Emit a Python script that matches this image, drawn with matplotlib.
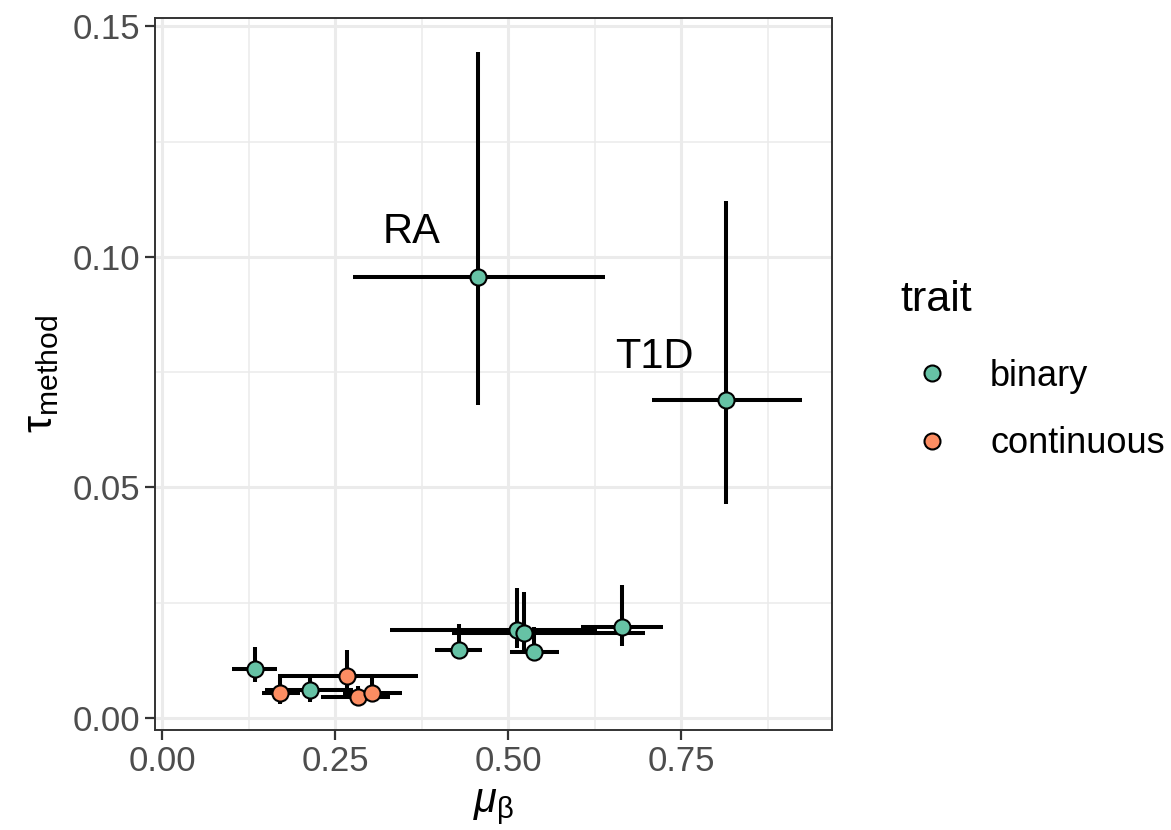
import matplotlib.pyplot as plt
from matplotlib.lines import Line2D

plt.rcParams['font.family'] = ['Liberation Sans', 'DejaVu Sans']
plt.rcParams['mathtext.fontset'] = 'custom'
plt.rcParams['mathtext.rm'] = 'Liberation Sans'
plt.rcParams['mathtext.it'] = 'Liberation Sans:italic'

# binary traits
bin_names = ['RA', 'T1D', '', '', '', '', '', '', '']
bin_x = [0.457, 0.815, 0.134, 0.214, 0.429, 0.513, 0.523, 0.537, 0.665]
bin_y = [0.0956, 0.0690, 0.0106, 0.0061, 0.0147, 0.0191, 0.0184, 0.0144, 0.0198]
bin_xlo = [0.276, 0.708, 0.101, 0.149, 0.395, 0.329, 0.419, 0.503, 0.606]
bin_xhi = [0.640, 0.925, 0.166, 0.276, 0.463, 0.628, 0.698, 0.573, 0.724]
bin_ylo = [0.0679, 0.0464, 0.0078, 0.0035, 0.0135, 0.0151, 0.0144, 0.0125, 0.0156]
bin_yhi = [0.1444, 0.1121, 0.0155, 0.0095, 0.0203, 0.0281, 0.0274, 0.0198, 0.0288]

# continuous traits
con_x = [0.171, 0.267, 0.283, 0.303]
con_y = [0.0054, 0.0090, 0.0045, 0.0055]
con_xlo = [0.144, 0.168, 0.230, 0.262]
con_xhi = [0.200, 0.370, 0.330, 0.346]
con_ylo = [0.0030, 0.0060, 0.0025, 0.0035]
con_yhi = [0.0092, 0.0147, 0.0070, 0.0092]

green = '#66C2A5'
orange = '#FC8D62'

fig = plt.figure(figsize=(11.71, 8.30), dpi=100)
ax = fig.add_axes([0.1324, 0.1205, 0.5781, 0.8578])


def errs(v, lo, hi):
    return [[a - b for a, b in zip(v, lo)], [b - a for a, b in zip(v, hi)]]


for xs, ys, xlo, xhi, ylo, yhi in [
        (bin_x, bin_y, bin_xlo, bin_xhi, bin_ylo, bin_yhi),
        (con_x, con_y, con_xlo, con_xhi, con_ylo, con_yhi)]:
    ax.errorbar(xs, ys, xerr=errs(xs, xlo, xhi), fmt='none', ecolor='black',
                elinewidth=2.9, capsize=0, zorder=2)
    ax.errorbar(xs, ys, yerr=errs(ys, ylo, yhi), fmt='none', ecolor='black',
                elinewidth=2.9, capsize=0, zorder=2)

ax.scatter(bin_x, bin_y, s=135, c=green, edgecolors='black', linewidths=1.5, zorder=3)
ax.scatter(con_x, con_y, s=135, c=orange, edgecolors='black', linewidths=1.5, zorder=3)

ax.text(0.360, 0.1054, bin_names[0], fontsize=30, ha='center', va='center')
ax.text(0.712, 0.0783, bin_names[1], fontsize=30, ha='center', va='center')

ax.set_xlim(-0.0101, 0.968)
ax.set_ylim(-0.0026, 0.1518)
ax.set_xticks([0, 0.25, 0.5, 0.75])
ax.set_xticklabels(['0.00', '0.25', '0.50', '0.75'])
ax.set_yticks([0, 0.05, 0.10, 0.15])
ax.set_yticklabels(['0.00', '0.05', '0.10', '0.15'])
ax.set_xticks([0.125, 0.375, 0.625, 0.875], minor=True)
ax.set_yticks([0.025, 0.075, 0.125], minor=True)
ax.grid(True, which='major', color='#EBEBEB', linewidth=2.2, zorder=0)
ax.grid(True, which='minor', color='#EBEBEB', linewidth=1.1, zorder=0)
ax.set_axisbelow(True)
ax.tick_params(which='major', labelsize=25, labelcolor='#4D4D4D', color='#333333',
               length=7, width=1.6, pad=4)
ax.tick_params(which='minor', length=0)
for sp in ax.spines.values():
    sp.set_color('#333333')
    sp.set_linewidth(1.4)

ax.set_xlabel(r'$\mu_{\mathrm{β}}$', fontsize=30, labelpad=6)
ax.set_ylabel(r'$\mathrm{τ}_{\mathrm{method}}$', fontsize=31, labelpad=8)

fig.text(900 / 1171, 1 - 311 / 830, 'trait', fontsize=31, ha='left', va='baseline')

handles = [Line2D([], [], marker='o', ls='none', markersize=11.5, markerfacecolor=green,
                  markeredgecolor='black', markeredgewidth=1.5),
           Line2D([], [], marker='o', ls='none', markersize=11.5, markerfacecolor=orange,
                  markeredgecolor='black', markeredgewidth=1.5)]
leg = fig.legend(handles, ['binary', 'continuous'], loc='upper left',
                 bbox_to_anchor=(0.7376, 0.607), frameon=False, fontsize=26,
                 labelspacing=0.9, handletextpad=0.6)

fig.savefig('out.png', dpi=100)
